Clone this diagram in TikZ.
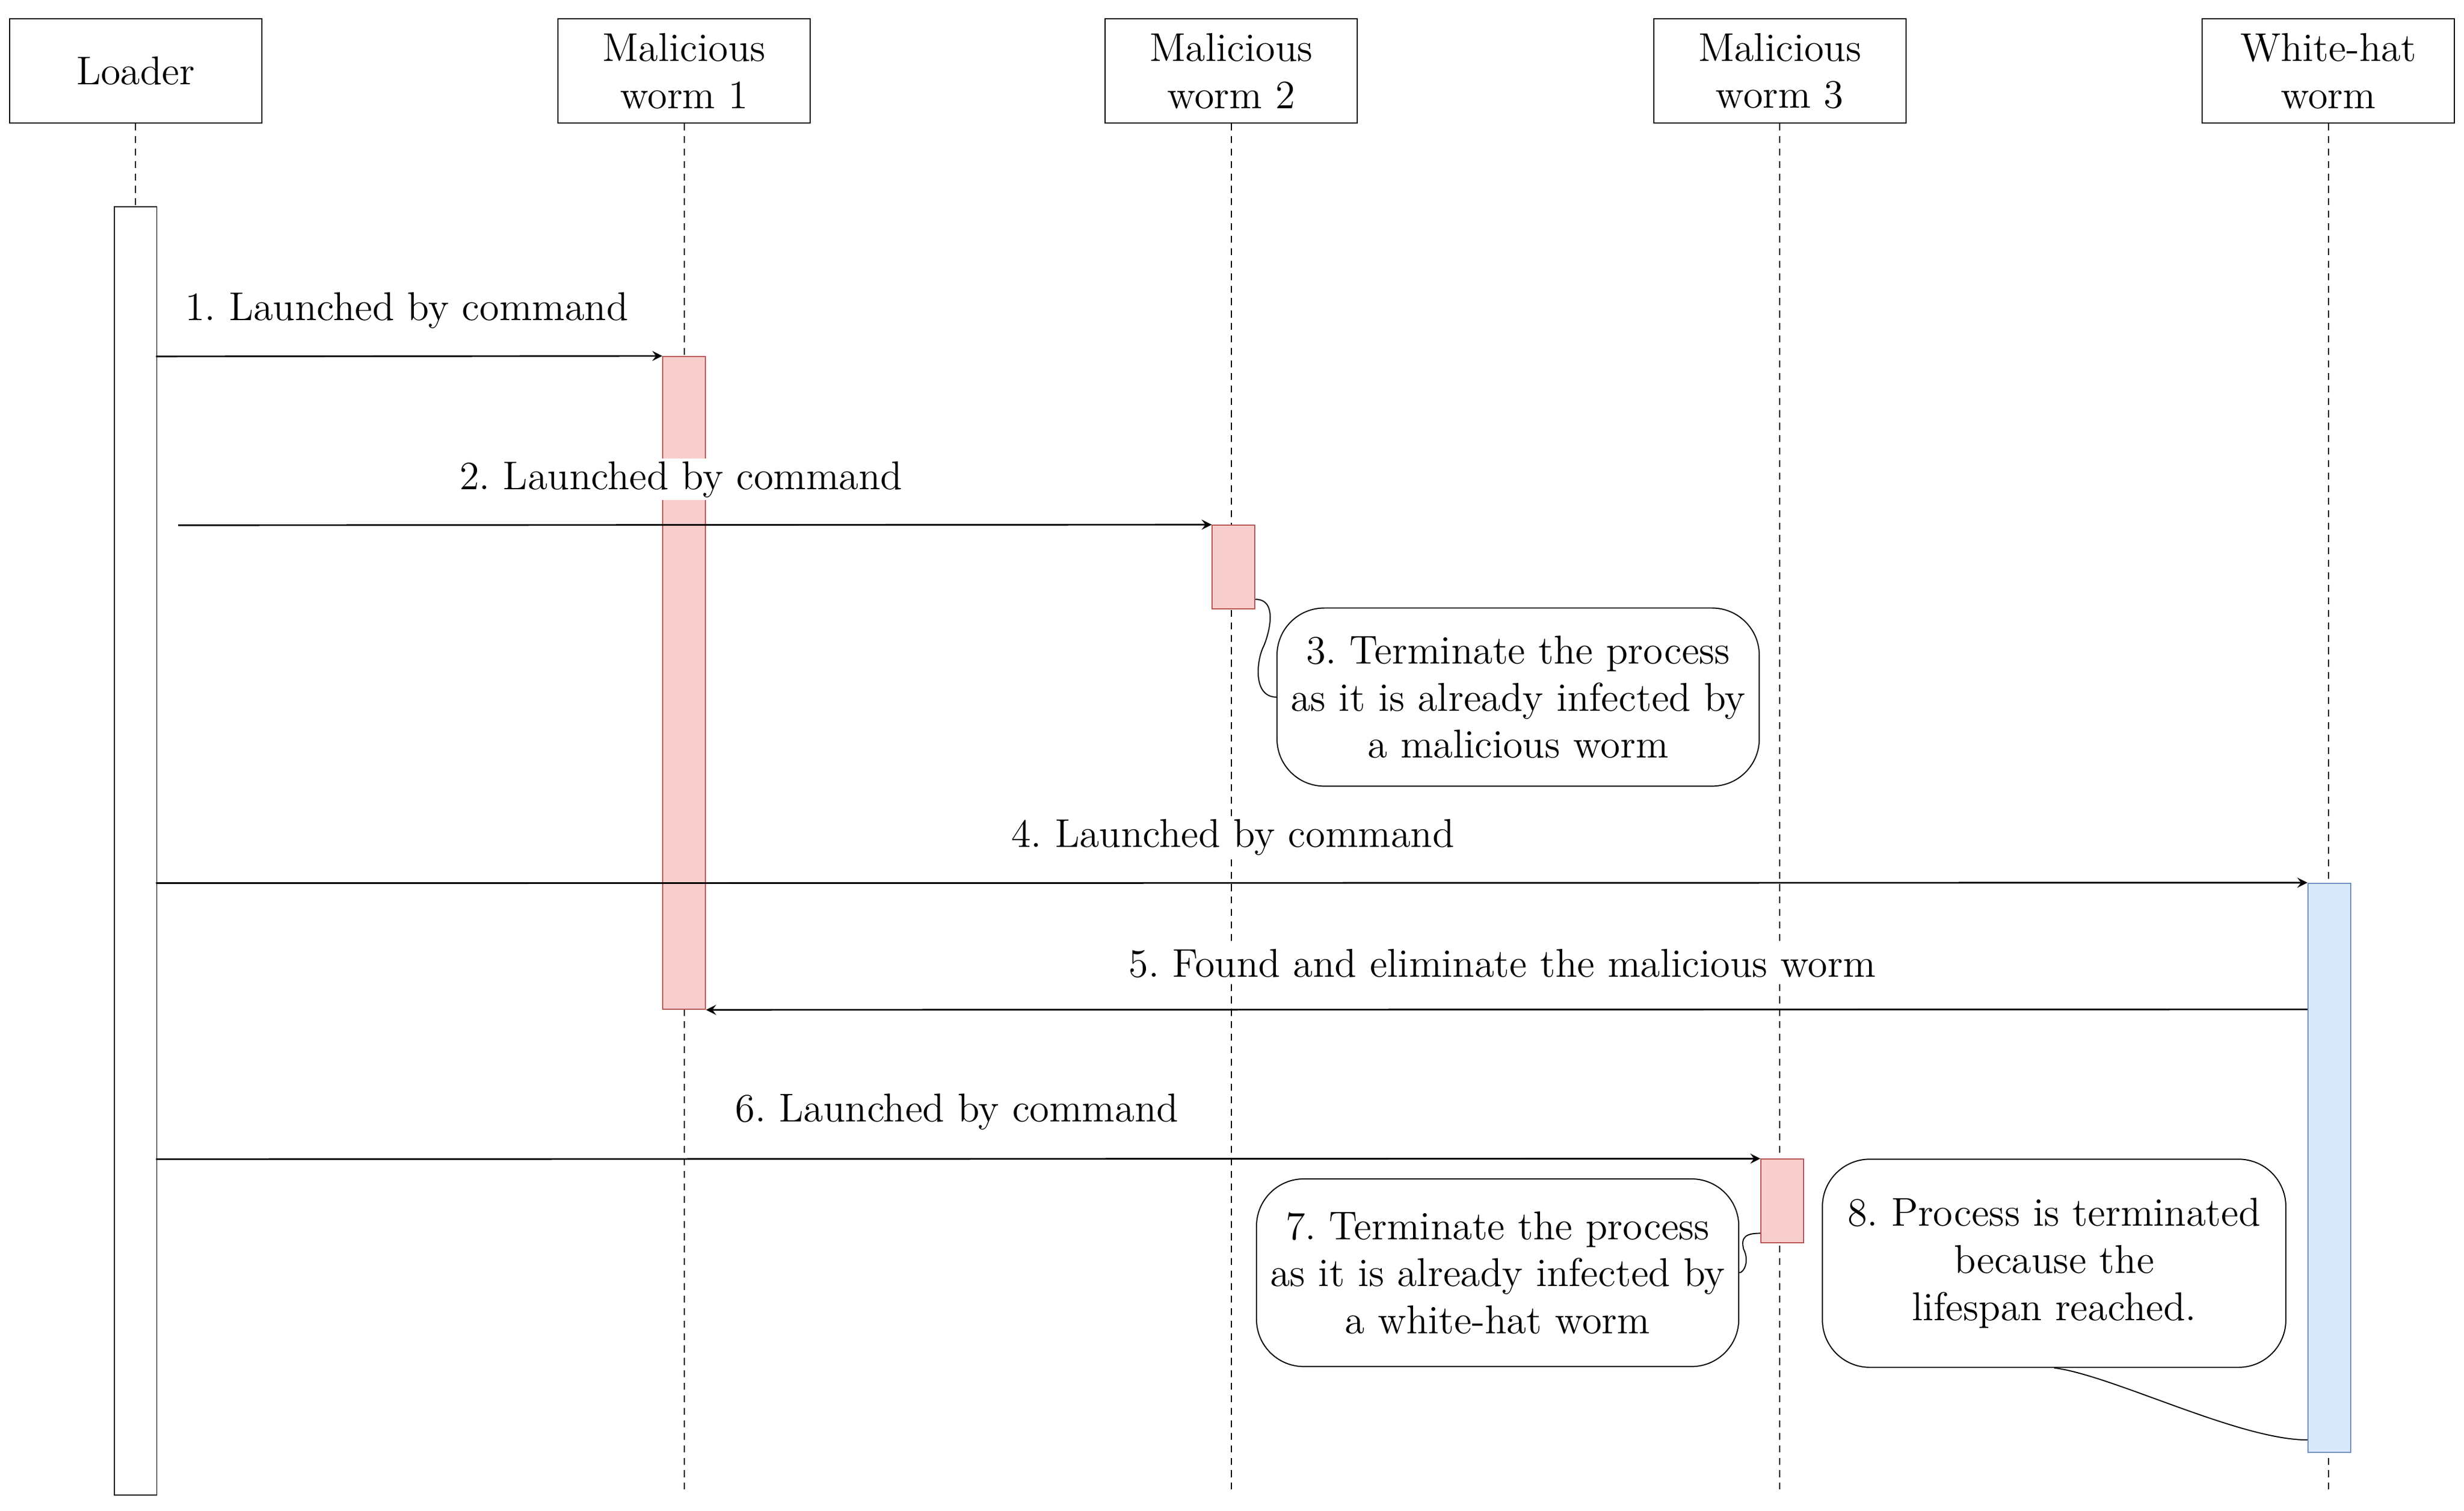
\documentclass[tikz,border=0pt]{standalone}
\usetikzlibrary{positioning}
\definecolor{wormfill}{HTML}{F8CECC}
\definecolor{wormdraw}{HTML}{B85450}
\definecolor{whfill}{HTML}{DAE8FC}
\definecolor{whdraw}{HTML}{6C8EBF}
\frenchspacing
\begin{document}
\begin{tikzpicture}[x=0.02cm, y=-0.02cm, font=\fontsize{14.5}{17}\selectfont,
  head/.style={draw, minimum width=3.2cm, minimum height=1.32cm, align=center, inner sep=0},
  life/.style={dashed, dash pattern=on 2.5pt off 2pt},
  bar/.style={draw, minimum width=0.54cm, inner sep=0},
  red bar/.style={bar, fill=wormfill, draw=wormdraw},
  blue bar/.style={bar, fill=whfill, draw=whdraw},
  msg/.style={-stealth, line width=0.6pt},
  lbl/.style={fill=white, inner sep=1pt},
  note/.style={draw, rounded corners=0.6cm, align=center, inner sep=1pt}]
  \useasboundingbox (0,0) rectangle (1563,958);
  % heads
  \node[head] (loader) at (86,45) {Loader};
  \node[head] (mw1) at (434,45) {Malicious\\worm 1};
  \node[head] (mw2) at (781,45) {Malicious\\worm 2};
  \node[head] (mw3) at (1129,45) {Malicious\\worm 3};
  \node[head] (wh) at (1477,45) {White-hat\\worm};
  % lifelines
  \foreach \h/\x in {loader/86, mw1/434, mw2/781, mw3/1129, wh/1477} {
    \coordinate (\h end) at (\x,948);
    \draw[life] (\h.south) -- (\h end);
  }
  % activations
  \node[bar, fill=white, minimum height=16.34cm] (aload) at (86,539.5) {};
  \node[red bar, minimum height=8.28cm] (a1) at (434,433) {};
  \node[red bar, minimum height=1.06cm] (a2) at (782.5,359.5) {};
  \node[red bar, minimum height=1.06cm] (a3) at (1130.5,761.5) {};
  \node[blue bar, minimum height=7.22cm] (aw) at (1477.5,740.5) {};
  % messages
  \coordinate (s1) at (99,226);
  \coordinate (s2) at (113,333);
  \coordinate (s4) at (99,560);
  \coordinate (s6) at (99,735);
  \draw[msg] (s1) -- (a1.north west);
  \node[lbl] (l1) at (258,197) {1. Launched by command};
  \draw[msg] (s2) -- (a2.north west);
  \node[lbl] (l2) at (432,304) {2. Launched by command};
  \draw[msg] (s4) -- (aw.north west);
  \node[lbl] (l4) at (782,531) {4. Launched by command};
  \draw[msg] (aw.west |- 0,640) -- (a1.south east);
  \node[lbl] (l5) at (953,611) {5. Found and eliminate the malicious worm};
  \draw[msg] (s6) -- (a3.north west);
  \node[lbl] (l6) at (607,705) {6. Launched by command};
  % notes
  \node[note, minimum width=6.12cm, minimum height=2.26cm] (n3) at (963,442)
    {3. Terminate the process\\as it is already infected by\\a malicious worm};
  \node[note, minimum width=6.12cm, minimum height=2.38cm] (n7) at (950,807)
    {7. Terminate the process\\as it is already infected by\\a white-hat worm};
  \node[note, minimum width=5.88cm, minimum height=2.64cm] (n8) at (1303,801)
    {8. Process is terminated\\because the\\lifespan reached.};
  \draw (a2.east |- 0,380) .. controls (812,380) and (804,405) .. (801,411)
    .. controls (797,420) and (795,442) .. (n3.west);
  \draw (a3.west |- 0,782) .. controls (1108,782) and (1104,784) .. (1106,792)
    .. controls (1110,800) and (1106,807) .. (n7.east);
  \draw (n8.south) .. controls (1340,872) and (1420,913) .. (aw.south west |- 0,913);
\end{tikzpicture}
\end{document}
